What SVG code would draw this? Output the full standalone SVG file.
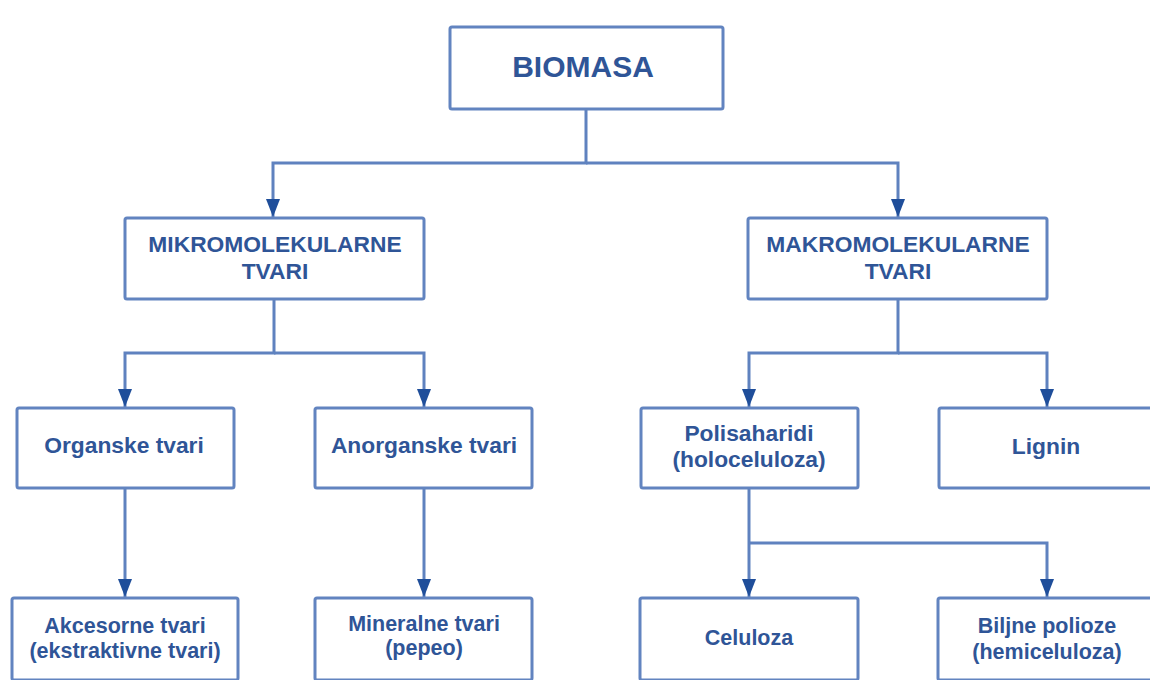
<svg xmlns="http://www.w3.org/2000/svg" width="1150" height="680" viewBox="0 0 1150 680">
<defs>
<style>
.box{fill:#ffffff;stroke:#6284c0;stroke-width:3}
.ln{fill:none;stroke:#5f82bf;stroke-width:3}
text{font-family:"Liberation Sans",Arial,sans-serif;font-weight:bold;fill:#2f5597;text-anchor:middle}
.t1{font-size:30px}
.t2{font-size:22.8px}
.t3{font-size:22.8px}
.t4{font-size:21.5px}
</style>
<marker id="ah" viewBox="0 0 18 14" refX="18" refY="7" markerWidth="18" markerHeight="14" markerUnits="userSpaceOnUse" orient="auto">
<path d="M0,0 L18,7 L0,14 Z" fill="#1f4e9a"/>
</marker>
</defs>
<rect width="1150" height="680" fill="#ffffff"/>
<g id="connectors">
<path class="ln" d="M586,109 V163 H273 V217" marker-end="url(#ah)"/>
<path class="ln" d="M586,163 H898 V217" marker-end="url(#ah)"/>
<path class="ln" d="M274,299 V353 H125 V407" marker-end="url(#ah)"/>
<path class="ln" d="M274,353 H424 V407" marker-end="url(#ah)"/>
<path class="ln" d="M898,299 V353 H749 V407" marker-end="url(#ah)"/>
<path class="ln" d="M898,353 H1047 V407" marker-end="url(#ah)"/>
<path class="ln" d="M125,488 V597" marker-end="url(#ah)"/>
<path class="ln" d="M424,488 V597" marker-end="url(#ah)"/>
<path class="ln" d="M749,488 V597" marker-end="url(#ah)"/>
<path class="ln" d="M749,543 H1047 V597" marker-end="url(#ah)"/>
</g>
<g id="biomasa">
<rect class="box" x="450" y="27" width="273" height="82" rx="2"/>
<text class="t1" x="583" y="77">BIOMASA</text>
</g>
<g id="mikro">
<rect class="box" x="125" y="218" width="299" height="81" rx="2"/>
<text class="t2" x="275" y="252">MIKROMOLEKULARNE</text>
<text class="t2" x="275" y="279">TVARI</text>
</g>
<g id="makro">
<rect class="box" x="748" y="218" width="299" height="81" rx="2"/>
<text class="t2" x="898" y="252">MAKROMOLEKULARNE</text>
<text class="t2" x="898" y="279">TVARI</text>
</g>
<g id="organske">
<rect class="box" x="17" y="408" width="217" height="80" rx="2"/>
<text class="t3" x="124" y="453">Organske tvari</text>
</g>
<g id="anorganske">
<rect class="box" x="315" y="408" width="217" height="80" rx="2"/>
<text class="t3" x="424" y="453">Anorganske tvari</text>
</g>
<g id="polisaharidi">
<rect class="box" x="641" y="408" width="217" height="80" rx="2"/>
<text class="t3" x="749" y="441">Polisaharidi</text>
<text class="t3" x="749" y="467">(holoceluloza)</text>
</g>
<g id="lignin">
<rect class="box" x="939" y="408" width="217" height="80" rx="2"/>
<text class="t3" x="1046" y="454">Lignin</text>
</g>
<g id="akcesorne">
<rect class="box" x="12" y="598" width="226" height="82" rx="2"/>
<text class="t4" x="125" y="633">Akcesorne tvari</text>
<text class="t4" x="125" y="658">(ekstraktivne tvari)</text>
</g>
<g id="mineralne">
<rect class="box" x="315" y="598" width="217" height="82" rx="2"/>
<text class="t4" x="424" y="631">Mineralne tvari</text>
<text class="t4" x="424" y="655">(pepeo)</text>
</g>
<g id="celuloza">
<rect class="box" x="640" y="598" width="218" height="82" rx="2"/>
<text class="t4" x="749" y="645">Celuloza</text>
</g>
<g id="biljne">
<rect class="box" x="938" y="598" width="218" height="82" rx="2"/>
<text class="t4" x="1047" y="633">Biljne polioze</text>
<text class="t4" x="1047" y="659">(hemiceluloza)</text>
</g>
</svg>
